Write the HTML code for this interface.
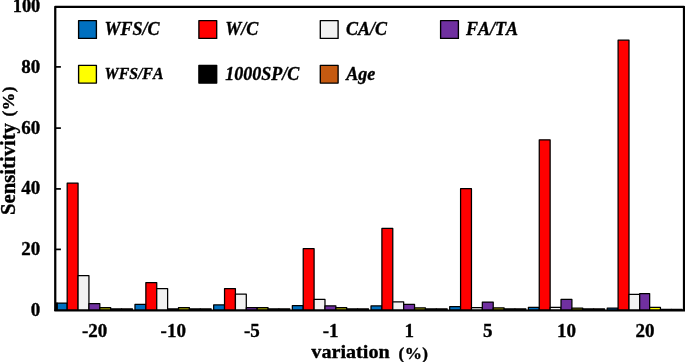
<!DOCTYPE html>
<html><head><meta charset="utf-8"><title>Sensitivity</title>
<style>
html,body{margin:0;padding:0;background:#fff;}
svg{display:block;font-family:"Liberation Serif","Times New Roman",serif;font-weight:bold;fill:#000;font-kerning:none;}
text{stroke:#000;stroke-width:0.35px;stroke-linejoin:round;}
.b{stroke:#000;stroke-width:1.25;stroke-linejoin:round;}
.t16{font-size:19px;}
.t20{font-size:20px;}
.lg{font-size:18px;font-style:italic;}
</style></head><body>
<svg width="685" height="362" viewBox="0 0 685 362">
<rect x="0" y="0" width="685" height="362" fill="#fff"/>
<rect class="b" x="57.20" y="303.02" width="9.98" height="7.18" fill="#0070C0"/>
<rect class="b" x="67.18" y="183.12" width="10.88" height="127.07" fill="#FF0000"/>
<rect class="b" x="78.06" y="275.52" width="10.88" height="34.68" fill="#F2F2F2"/>
<rect class="b" x="88.94" y="303.62" width="10.88" height="6.57" fill="#7030A0"/>
<rect class="b" x="99.82" y="307.62" width="10.88" height="2.57" fill="#a0a000"/>
<rect class="b" x="110.70" y="308.93" width="10.88" height="1.27" fill="#000000"/>
<rect class="b" x="121.58" y="308.93" width="10.88" height="1.27" fill="#C55A11"/>
<rect class="b" x="134.98" y="304.43" width="10.88" height="5.77" fill="#0070C0"/>
<rect class="b" x="145.86" y="282.52" width="10.88" height="27.68" fill="#FF0000"/>
<rect class="b" x="156.74" y="288.52" width="10.88" height="21.68" fill="#F2F2F2"/>
<rect class="b" x="167.62" y="308.93" width="10.88" height="1.27" fill="#7030A0"/>
<rect class="b" x="178.50" y="307.52" width="10.88" height="2.68" fill="#a0a000"/>
<rect class="b" x="189.38" y="308.93" width="10.88" height="1.27" fill="#000000"/>
<rect class="b" x="200.26" y="308.93" width="10.88" height="1.27" fill="#C55A11"/>
<rect class="b" x="213.66" y="304.93" width="10.88" height="5.27" fill="#0070C0"/>
<rect class="b" x="224.54" y="288.52" width="10.88" height="21.68" fill="#FF0000"/>
<rect class="b" x="235.42" y="294.23" width="10.88" height="15.97" fill="#F2F2F2"/>
<rect class="b" x="246.30" y="307.73" width="10.88" height="2.47" fill="#7030A0"/>
<rect class="b" x="257.18" y="307.73" width="10.88" height="2.47" fill="#a0a000"/>
<rect class="b" x="268.06" y="308.93" width="10.88" height="1.27" fill="#000000"/>
<rect class="b" x="278.94" y="308.93" width="10.88" height="1.27" fill="#C55A11"/>
<rect class="b" x="292.34" y="305.73" width="10.88" height="4.47" fill="#0070C0"/>
<rect class="b" x="303.22" y="248.72" width="10.88" height="61.47" fill="#FF0000"/>
<rect class="b" x="314.10" y="299.43" width="10.88" height="10.77" fill="#F2F2F2"/>
<rect class="b" x="324.98" y="305.82" width="10.88" height="4.38" fill="#7030A0"/>
<rect class="b" x="335.86" y="307.73" width="10.88" height="2.47" fill="#a0a000"/>
<rect class="b" x="346.74" y="308.93" width="10.88" height="1.27" fill="#000000"/>
<rect class="b" x="357.62" y="308.93" width="10.88" height="1.27" fill="#C55A11"/>
<rect class="b" x="371.02" y="305.93" width="10.88" height="4.27" fill="#0070C0"/>
<rect class="b" x="381.90" y="228.43" width="10.88" height="81.77" fill="#FF0000"/>
<rect class="b" x="392.78" y="301.82" width="10.88" height="8.38" fill="#F2F2F2"/>
<rect class="b" x="403.66" y="304.43" width="10.88" height="5.77" fill="#7030A0"/>
<rect class="b" x="414.54" y="307.82" width="10.88" height="2.38" fill="#a0a000"/>
<rect class="b" x="425.42" y="308.93" width="10.88" height="1.27" fill="#000000"/>
<rect class="b" x="436.30" y="308.93" width="10.88" height="1.27" fill="#C55A11"/>
<rect class="b" x="449.70" y="306.73" width="10.88" height="3.47" fill="#0070C0"/>
<rect class="b" x="460.58" y="188.72" width="10.88" height="121.47" fill="#FF0000"/>
<rect class="b" x="471.46" y="307.52" width="10.88" height="2.68" fill="#F2F2F2"/>
<rect class="b" x="482.34" y="302.02" width="10.88" height="8.18" fill="#7030A0"/>
<rect class="b" x="493.22" y="307.82" width="10.88" height="2.38" fill="#a0a000"/>
<rect class="b" x="504.10" y="308.93" width="10.88" height="1.27" fill="#000000"/>
<rect class="b" x="514.98" y="308.93" width="10.88" height="1.27" fill="#C55A11"/>
<rect class="b" x="528.38" y="307.32" width="10.88" height="2.88" fill="#0070C0"/>
<rect class="b" x="539.26" y="139.82" width="10.88" height="170.38" fill="#FF0000"/>
<rect class="b" x="550.14" y="307.43" width="10.88" height="2.77" fill="#F2F2F2"/>
<rect class="b" x="561.02" y="299.43" width="10.88" height="10.77" fill="#7030A0"/>
<rect class="b" x="571.90" y="308.02" width="10.88" height="2.18" fill="#a0a000"/>
<rect class="b" x="582.78" y="308.93" width="10.88" height="1.27" fill="#000000"/>
<rect class="b" x="593.66" y="308.93" width="10.88" height="1.27" fill="#C55A11"/>
<rect class="b" x="607.20" y="308.02" width="10.90" height="2.18" fill="#0070C0"/>
<rect class="b" x="618.10" y="40.23" width="10.90" height="269.97" fill="#FF0000"/>
<rect class="b" x="629.00" y="294.32" width="10.70" height="15.88" fill="#F2F2F2"/>
<rect class="b" x="639.70" y="293.62" width="9.95" height="16.57" fill="#7030A0"/>
<rect class="b" x="649.65" y="307.48" width="10.80" height="2.72" fill="#FFFF00"/>
<rect class="b" x="660.45" y="309.32" width="10.85" height="0.88" fill="#000000"/>
<rect class="b" x="671.30" y="309.32" width="10.80" height="0.88" fill="#C55A11"/>
<rect x="56" y="302.4" width="1.5" height="8" fill="#000"/>
<path d="M55.25 311 V6.8 H684 V311" fill="none" stroke="#000" stroke-width="2.25" stroke-linejoin="round"/>
<path d="M54.4 310.6 H685" fill="none" stroke="#000" stroke-width="2"/>
<path d="M56 66.90 H60.9" stroke="#000" stroke-width="1.7"/>
<path d="M56 128.10 H60.9" stroke="#000" stroke-width="1.7"/>
<path d="M56 188.90 H60.9" stroke="#000" stroke-width="1.7"/>
<path d="M56 249.40 H60.9" stroke="#000" stroke-width="1.7"/>
<text class="t16" transform="translate(40.3 316.2) scale(1.0 1)" text-anchor="end">0</text>
<text class="t16" transform="translate(40.3 255.4) scale(1.0 1)" text-anchor="end">20</text>
<text class="t16" transform="translate(40.3 194.2) scale(1.0 1)" text-anchor="end">40</text>
<text class="t16" transform="translate(40.3 133.8) scale(1.0 1)" text-anchor="end">60</text>
<text class="t16" transform="translate(40.3 73) scale(1.0 1)" text-anchor="end">80</text>
<text class="t16" transform="translate(40.3 12) scale(0.97 1)" text-anchor="end">100</text>
<text class="t16" transform="translate(94.62 337.1) scale(1.0 1)" text-anchor="middle">-20</text>
<text class="t16" transform="translate(173.26 337.1) scale(1.0 1)" text-anchor="middle">-10</text>
<text class="t16" transform="translate(251.90 337.1) scale(1.0 1)" text-anchor="middle">-5</text>
<text class="t16" transform="translate(330.54 337.1) scale(1.0 1)" text-anchor="middle">-1</text>
<text class="t16" transform="translate(409.18 337.1) scale(1.0 1)" text-anchor="middle">1</text>
<text class="t16" transform="translate(487.82 337.1) scale(1.0 1)" text-anchor="middle">5</text>
<text class="t16" transform="translate(566.46 337.1) scale(1.0 1)" text-anchor="middle">10</text>
<text class="t16" transform="translate(645.10 337.1) scale(1.0 1)" text-anchor="middle">20</text>
<text transform="translate(311.3 358.3) scale(1.12 1)" style="font-size:18px">variation</text>
<text x="398.6" y="359" style="font-size:17.2px;letter-spacing:0.35px">(%)</text>
<text transform="translate(14.9 215.0) rotate(-90)" style="font-size:20.7px">Sensitivity</text>
<text transform="translate(14.3 116.5) rotate(-90)" style="font-size:17.6px;letter-spacing:0.35px">(%)</text>
<rect x="78.60" y="20.60" width="17.8" height="17.8" fill="#0070C0" stroke="#000" stroke-width="1.35" stroke-linejoin="round"/>
<text class="lg" x="104.40" y="35.00">WFS/C</text>
<rect x="198.90" y="20.60" width="17.8" height="17.8" fill="#FF0000" stroke="#000" stroke-width="1.35" stroke-linejoin="round"/>
<text class="lg" x="225.30" y="35.00">W/C</text>
<rect x="320.30" y="20.60" width="17.8" height="17.8" fill="#F2F2F2" stroke="#000" stroke-width="1.35" stroke-linejoin="round"/>
<text class="lg" x="345.90" y="35.00">CA/C</text>
<rect x="440.60" y="20.60" width="17.8" height="17.8" fill="#7030A0" stroke="#000" stroke-width="1.35" stroke-linejoin="round"/>
<text class="lg" x="466.10" y="35.00">FA/TA</text>
<rect x="78.60" y="65.30" width="17.8" height="17.8" fill="#FFFF00" stroke="#000" stroke-width="1.35" stroke-linejoin="round"/>
<text class="lg" x="104.60" y="79.10" style="font-size:15.8px">WFS/FA</text>
<rect x="198.90" y="65.30" width="17.8" height="17.8" fill="#000000" stroke="#000" stroke-width="1.35" stroke-linejoin="round"/>
<text class="lg" x="225.30" y="79.70">1000SP/C</text>
<rect x="320.30" y="65.30" width="17.8" height="17.8" fill="#C55A11" stroke="#000" stroke-width="1.35" stroke-linejoin="round"/>
<text class="lg" x="346.30" y="79.70">Age</text>
</svg></body></html>
